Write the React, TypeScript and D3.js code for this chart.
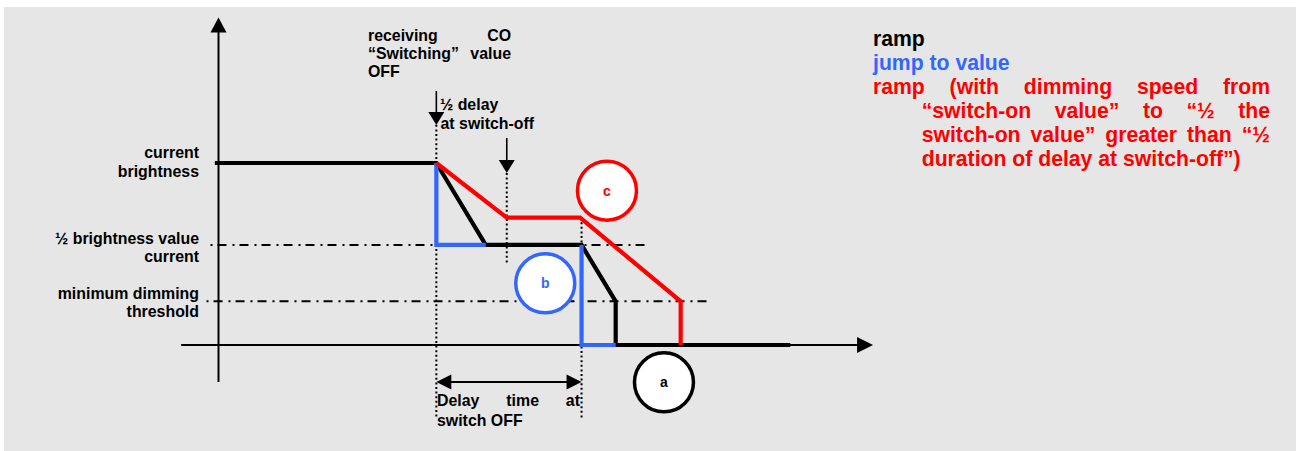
import React from 'react';
import * as d3 from 'd3';

const W = 1296;
const H = 451;

// time units: 0 = "Switching OFF" received, 4 = end of delay at switch-off
// level units: 0 = off, 100 = current brightness
const rampBlack: [number, number][] = [[-6.1, 100], [0, 100], [1.36, 55], [4, 55], [4.94, 24], [4.94, 0], [9.75, 0]];
const jumpBlue1: [number, number][] = [[0, 100], [0, 55], [1.36, 55]];
const jumpBlue2: [number, number][] = [[4, 55], [4, 0], [4.94, 0]];
const rampRed: [number, number][] = [[0, 100], [1.94, 70], [3.96, 70], [6.73, 24], [6.73, 0]];

const levelNames = ['current brightness', '½ brightness value current', 'minimum dimming threshold'];
const levelValues = [100, 55, 24];
const levelLabelLines = [['current', 'brightness'], ['½ brightness value', 'current'], ['minimum dimming', 'threshold']];

const refLineLevels = [55, 24];
const refLineStarts = [-6.22, -6.33];
const refLineEnds = [5.75, 7.46];

const circleIds = ['a', 'b', 'c'];
const circleTimes = [6.27, 3, 4.7];
const circleLevels = [-20.5, 33.9, 84.8];

const markerTimes = [0, 1.94, 4];
const markerTops = [121, 94.5, 70];
const markerBottoms = [-40, 45, -40];

const legendTitle = ['ramp', 'jump to value'];
const legendRedLines = [
  'ramp (with dimming speed from',
  '“switch-on value” to “½ the',
  'switch-on value” greater than “½',
  'duration of delay at switch-off”)',
];

const BLACK = '#000000';
const BLUE = '#3366ff';
const RED = '#ff0000';
const FONT = "'Liberation Sans', Arial, Helvetica, sans-serif";

let ctx: CanvasRenderingContext2D | null = null;
function measure(text: string, size: number): number {
  if (!ctx) ctx = document.createElement('canvas').getContext('2d');
  if (!ctx) return text.length * size * 0.55;
  ctx.font = `bold ${size}px "Liberation Sans"`;
  return ctx.measureText(text).width;
}
function justify(words: string[], x0: number, x1: number, size: number): number[] {
  const ws = words.map((w) => measure(w, size));
  const gap = words.length > 1 ? (x1 - x0 - d3.sum(ws)) / (words.length - 1) : 0;
  let x = x0;
  return words.map((w, i) => {
    const p = x;
    x += ws[i] + gap;
    return p;
  });
}

function JText({ text, x0, x1, y, size, color }: { text: string; x0: number; x1: number; y: number; size: number; color: string }) {
  const words = text.split(' ');
  const xs = justify(words, x0, x1, size);
  return (
    <g>
      {words.map((w, i) => (
        <text key={i} x={xs[i]} y={y} fontSize={size} fontWeight="bold" fontFamily={FONT} fill={color}>
          {w}
        </text>
      ))}
    </g>
  );
}

export default function App() {
  const x = d3.scaleLinear().domain([-6, 12]).range([218.5, 872]);
  const y = d3.scaleLinear().domain([0, 100]).range([345, 163]);
  const line = d3.line<[number, number]>().x((d) => x(d[0])).y((d) => y(d[1]));
  const circleColors = [BLACK, BLUE, RED];

  const yAxisX = x(-6);
  const yTop = y(180);
  const yBottom = y(-20.3);
  const xAxisY = y(0);
  const xLeft = x(-7.03);
  const xTip = x(12.03);

  const S = 15.9;
  const L = 21.2;

  const downArrow = (cx: number, y0: number, tip: number, key: string) => (
    <g key={key}>
      <line x1={cx} x2={cx} y1={y0} y2={tip - 10} stroke={BLACK} strokeWidth={1.6} />
      <path d={`M${cx - 8},${tip - 13} L${cx + 8},${tip - 13} L${cx},${tip} Z`} fill={BLACK} />
    </g>
  );

  const labelOffsets = [[-4.7, 14], [-1, 17.5], [-2.8, 15.7]];

  return (
    <svg width={W} height={H} style={{ position: 'absolute', left: 0, top: 0 }}>
      <rect x={0} y={0} width={W} height={H} fill="#ffffff" />
      <rect x={4} y={7} width={W - 4} height={H - 7} fill="#e6e6e6" />

      {/* reference dash-dot lines */}
      {refLineLevels.map((lv, i) => (
        <line key={'r' + i} x1={x(refLineStarts[i])} x2={x(refLineEnds[i])} y1={y(lv)} y2={y(lv)}
          stroke={BLACK} strokeWidth={2} strokeDasharray="2,5,9,6" />
      ))}

      {/* dotted vertical markers */}
      {markerTimes.map((t, i) => (
        <line key={'m' + i} x1={x(t)} x2={x(t)} y1={y(markerTops[i])} y2={y(markerBottoms[i])}
          stroke={BLACK} strokeWidth={2} strokeDasharray="2,2.6" />
      ))}

      {/* axes */}
      <line x1={yAxisX} x2={yAxisX} y1={yTop + 10} y2={yBottom} stroke={BLACK} strokeWidth={2} />
      <path d={`M${yAxisX - 8},${yTop + 15} L${yAxisX + 8},${yTop + 15} L${yAxisX},${yTop} Z`} fill={BLACK} />
      <line x1={xLeft} x2={xTip - 10} y1={xAxisY} y2={xAxisY} stroke={BLACK} strokeWidth={2} />
      <path d={`M${xTip - 16},${xAxisY - 8} L${xTip - 16},${xAxisY + 8} L${xTip},${xAxisY} Z`} fill={BLACK} />

      {/* curves */}
      <path d={line(rampBlack) || ''} fill="none" stroke={BLACK} strokeWidth={4.2} strokeLinejoin="miter" />
      <path d={line(jumpBlue1) || ''} fill="none" stroke={BLUE} strokeWidth={4.2} />
      <path d={line(jumpBlue2) || ''} fill="none" stroke={BLUE} strokeWidth={4.2} />
      <path d={line(rampRed) || ''} fill="none" stroke={RED} strokeWidth={4.2} />

      {/* circles */}
      {circleIds.map((id, i) => (
        <g key={id}>
          <circle cx={x(circleTimes[i])} cy={y(circleLevels[i])} r={29.5} fill="#ffffff" stroke={circleColors[i]} strokeWidth={3.5} />
          <text x={x(circleTimes[i])} y={y(circleLevels[i]) + 5} textAnchor="middle" fontSize={14} fontWeight="bold"
            fontFamily={FONT} fill={circleColors[i]}>{id}</text>
        </g>
      ))}

      {/* arrows */}
      {downArrow(x(0), 91, 125, 'a0')}
      {downArrow(x(1.94), 138, 173, 'a1')}
      <g>
        <line x1={x(0) + 10} x2={x(4) - 10} y1={382} y2={382} stroke={BLACK} strokeWidth={2} />
        <path d={`M${x(0)},382 L${x(0) + 15},374.5 L${x(0) + 15},389.5 Z`} fill={BLACK} />
        <path d={`M${x(4)},382 L${x(4) - 15},374.5 L${x(4) - 15},389.5 Z`} fill={BLACK} />
      </g>

      {/* level labels */}
      {levelValues.map((lv, i) => (
        <g key={'l' + i} aria-label={levelNames[i]}>
          {levelLabelLines[i].map((t, j) => (
            <text key={j} x={199} y={y(lv) + labelOffsets[i][j]} textAnchor="end" fontSize={S} fontWeight="bold"
              fontFamily={FONT} fill={BLACK}>{t}</text>
          ))}
        </g>
      ))}

      {/* top annotations */}
      <JText text="receiving CO" x0={368} x1={511} y={40.7} size={S} color={BLACK} />
      <JText text="“Switching” value" x0={368} x1={511} y={58.5} size={S} color={BLACK} />
      <text x={368} y={77.3} fontSize={S} fontWeight="bold" fontFamily={FONT}>OFF</text>
      <text x={440} y={110} fontSize={S} fontWeight="bold" fontFamily={FONT}>½ delay</text>
      <text x={440.5} y={129.3} fontSize={S} fontWeight="bold" fontFamily={FONT}>at switch-off</text>

      {/* bottom annotation */}
      <JText text="Delay time at" x0={437} x1={580} y={406} size={S} color={BLACK} />
      <text x={437} y={425.5} fontSize={S} fontWeight="bold" fontFamily={FONT}>switch OFF</text>

      {/* legend */}
      <text x={873} y={46} fontSize={L} fontWeight="bold" fontFamily={FONT} fill={BLACK}>{legendTitle[0]}</text>
      <text x={873} y={70} fontSize={L} fontWeight="bold" fontFamily={FONT} fill={BLUE}>{legendTitle[1]}</text>
      <JText text={legendRedLines[0]} x0={873} x1={1270} y={94} size={L} color={RED} />
      <JText text={legendRedLines[1]} x0={921.7} x1={1270} y={118} size={L} color={RED} />
      <JText text={legendRedLines[2]} x0={921.7} x1={1270} y={142} size={L} color={RED} />
      <text x={921.7} y={166} fontSize={L} fontWeight="bold" fontFamily={FONT} fill={RED}>{legendRedLines[3]}</text>
    </svg>
  );
}
